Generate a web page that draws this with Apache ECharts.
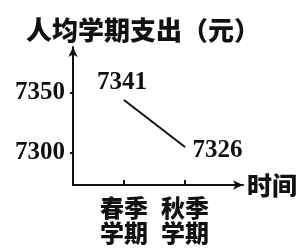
<!DOCTYPE html>
<html>
<head>
<meta charset="utf-8">
<script src="https://cdn.jsdelivr.net/npm/echarts@6/dist/echarts.min.js"></script>
<style>
  html, body { margin: 0; padding: 0; background: #fff; }
  #chart { width: 302px; height: 248px; }
</style>
</head>
<body>
<div id="chart"></div>
<script>
// 图表数据
var categories = ['春季\n学期', '秋季\n学期'];
var spending = [7341, 7326];
var yTicks = [7300, 7350];

var cjk = '"Noto Sans CJK SC", sans-serif';
var num = '"Liberation Serif", serif';

var myChart = echarts.init(document.getElementById('chart'));

var option = {
    animation: false,
    title: {
        text: '人均学期支出（元）',
        left: 21,
        top: 12,
        textStyle: { fontFamily: cjk, fontSize: 26, fontWeight: 900, color: '#111' }
    },
    grid: { left: 73, right: 59, top: 47, bottom: 63 },
    xAxis: {
        type: 'value',
        min: 0.164,
        max: 2.951,
        name: '时间',
        nameGap: 4,
        nameTextStyle: { fontFamily: cjk, fontSize: 25, fontWeight: 900, color: '#111' },
        splitLine: { show: false },
        axisLine: { lineStyle: { color: '#111', width: 2 }, symbol: ['none', 'arrow'], symbolSize: [7, 10] },
        axisTick: { inside: true, length: 5, lineStyle: { color: '#111', width: 2 }, customValues: [1, 2] },
        axisLabel: {
            customValues: [1, 2],
            margin: 10,
            formatter: function(v) { return categories[Math.round(v) - 1] || ''; },
            fontFamily: cjk, fontSize: 24, fontWeight: 900, lineHeight: 25, color: '#111'
        }
    },
    yAxis: [{
        type: 'value',
        min: 7273.33,
        max: 7388.33,
        splitLine: { show: false },
        axisLine: { show: true, lineStyle: { color: '#111', width: 2 }, symbol: ['none', 'arrow'], symbolSize: [7, 10] },
        axisTick: { show: true, length: 3, lineStyle: { color: '#111', width: 2 }, customValues: yTicks },
        axisLabel: {
            customValues: yTicks,
            margin: 8,
            formatter: function(v) { return String(v); },
            fontFamily: num, fontSize: 25, fontWeight: 'bold', color: '#111'
        }
    }, {
        // 示意折线所用的隐藏轴
        type: 'value',
        min: 7313.87,
        max: 7357.91,
        show: false
    }],
    series: [{
        type: 'line',
        yAxisIndex: 1,
        data: spending.map(function(v, i) {
            return {
                value: [i + 1, v],
                label: i === 0
                    ? { position: 'top', distance: 4, offset: [-2, 0] }
                    : { position: 'right', distance: 7, offset: [0, 4] }
            };
        }),
        symbol: 'circle',
        symbolSize: 1,
        itemStyle: { color: '#111' },
        lineStyle: { color: '#111', width: 2 },
        label: {
            show: true,
            formatter: function(p) { return p.value[1]; },
            fontFamily: num,
            fontSize: 25,
            fontWeight: 'bold',
            color: '#111'
        }
    }]
};

myChart.setOption(option);
</script>
</body>
</html>
